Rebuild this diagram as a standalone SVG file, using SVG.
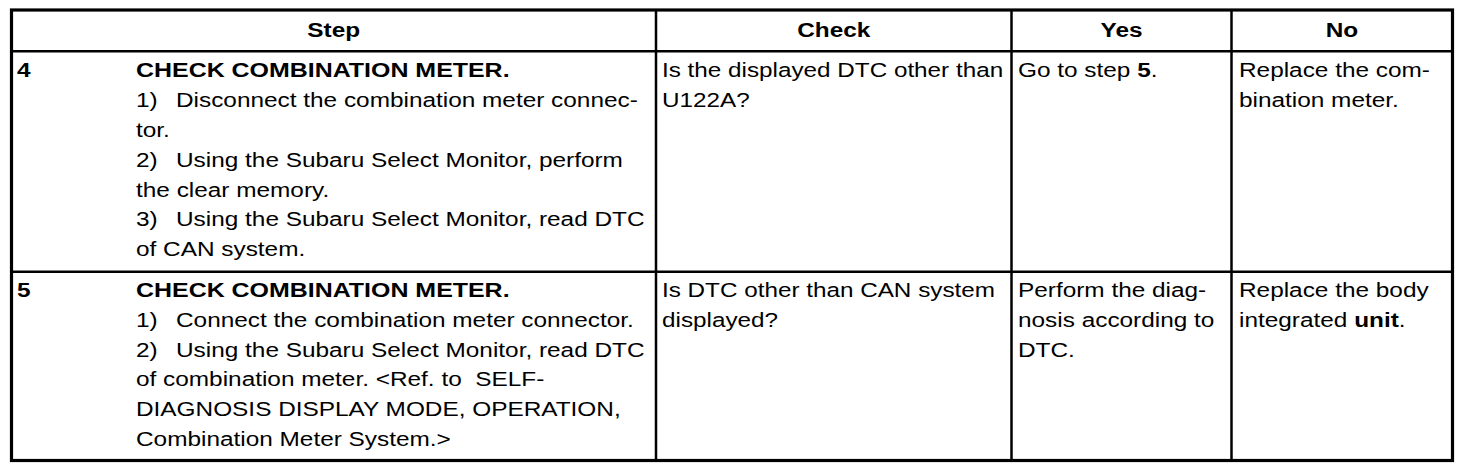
<svg xmlns="http://www.w3.org/2000/svg" width="1472" height="476" viewBox="0 0 1472 476">
<style>
text{font-family:"Liberation Sans",Arial,Helvetica,sans-serif;font-size:19.5px;fill:#000;white-space:pre}
.b{font-weight:bold}
.outer{fill:none;stroke:#000;stroke-width:3.2}
.ln{stroke:#000;stroke-width:2.5}
</style>
<rect width="1472" height="476" fill="#fff"/>
<g id="grid">
<rect class="outer" x="11.5" y="10" width="1441" height="450.5"/>
<line class="ln" x1="11.5" y1="51.3" x2="1452.5" y2="51.3"/>
<line class="ln" x1="11.5" y1="271.7" x2="1452.5" y2="271.7"/>
<line class="ln" x1="656" y1="10" x2="656" y2="460.5"/>
<line class="ln" x1="1011.5" y1="10" x2="1011.5" y2="460.5"/>
<line class="ln" x1="1231.5" y1="10" x2="1231.5" y2="460.5"/>
</g>
<g id="header">
<g transform="translate(333.75,0) scale(1.25,1)"><text class="b" x="0" y="37.5" text-anchor="middle">Step</text></g>
<g transform="translate(833.75,0) scale(1.25,1)"><text class="b" x="0" y="37.5" text-anchor="middle">Check</text></g>
<g transform="translate(1121.5,0) scale(1.25,1)"><text class="b" x="0" y="37.5" text-anchor="middle">Yes</text></g>
<g transform="translate(1342,0) scale(1.25,1)"><text class="b" x="0" y="37.5" text-anchor="middle">No</text></g>
</g>
<g id="step4">
<g transform="translate(17,0) scale(1.25,1)"><text class="b" x="0" y="77.5">4</text></g>
<g transform="translate(136,0) scale(1.28,1)"><text class="b" x="0" y="77.5">CHECK COMBINATION METER.</text></g>
<g transform="translate(136,0) scale(1.25,1)">
<text x="0" y="107.3" xml:space="preserve">1)<tspan x="32">Disconnect the combination meter connec-</tspan></text>
<text x="0" y="137.1">tor.</text>
<text x="0" y="166.9" xml:space="preserve">2)<tspan x="32">Using the Subaru Select Monitor, perform</tspan></text>
<text x="0" y="196.7">the clear memory.</text>
<text x="0" y="226.5" xml:space="preserve">3)<tspan x="32">Using the Subaru Select Monitor, read DTC</tspan></text>
<text x="0" y="256.3">of CAN system.</text>
</g>
<g transform="translate(662,0) scale(1.245,1)">
<text x="0" y="77.5">Is the displayed DTC other than</text>
<text x="0" y="107.3">U122A?</text>
</g>
<g transform="translate(1018,0) scale(1.25,1)">
<text x="0" y="77.5">Go to step <tspan class="b">5</tspan>.</text>
</g>
<g transform="translate(1239,0) scale(1.25,1)">
<text x="0" y="77.5">Replace the com-</text>
<text x="0" y="107.3">bination meter.</text>
</g>
</g>
<g id="step5">
<g transform="translate(17,0) scale(1.25,1)"><text class="b" x="0" y="297">5</text></g>
<g transform="translate(136,0) scale(1.28,1)"><text class="b" x="0" y="297">CHECK COMBINATION METER.</text></g>
<g transform="translate(136,0) scale(1.25,1)">
<text x="0" y="326.8" xml:space="preserve">1)<tspan x="32">Connect the combination meter connector.</tspan></text>
<text x="0" y="356.6" xml:space="preserve">2)<tspan x="32">Using the Subaru Select Monitor, read DTC</tspan></text>
<text x="0" y="386.4" xml:space="preserve">of combination meter. &lt;Ref. to  SELF-</text>
<text x="0" y="416.2">DIAGNOSIS DISPLAY MODE, OPERATION,</text>
<text x="0" y="446">Combination Meter System.&gt;</text>
</g>
<g transform="translate(662,0) scale(1.245,1)">
<text x="0" y="297">Is DTC other than CAN system</text>
<text x="0" y="326.8">displayed?</text>
</g>
<g transform="translate(1018,0) scale(1.25,1)">
<text x="0" y="297">Perform the diag-</text>
<text x="0" y="326.8">nosis according to</text>
<text x="0" y="356.6">DTC.</text>
</g>
<g transform="translate(1239,0) scale(1.25,1)">
<text x="0" y="297">Replace the body</text>
<text x="0" y="326.8">integrated <tspan class="b">unit</tspan>.</text>
</g>
</g>
</svg>
